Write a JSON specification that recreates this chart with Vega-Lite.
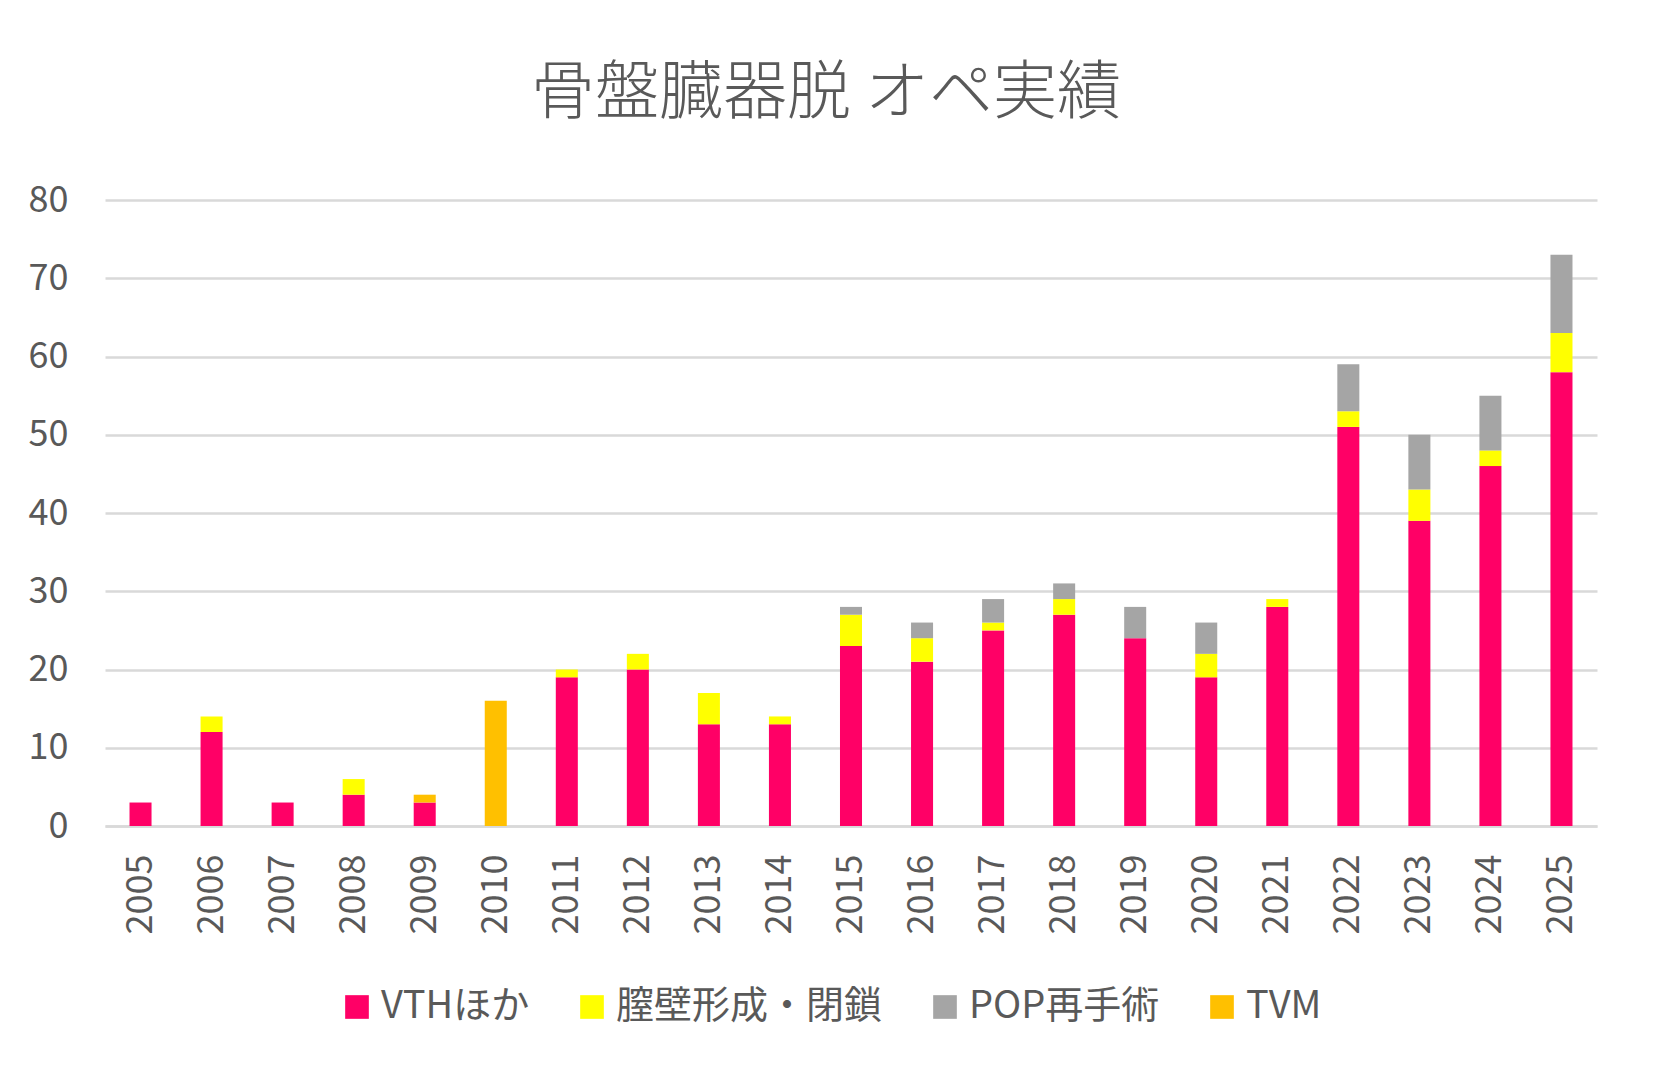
{
  "$schema": "https://vega.github.io/schema/vega-lite/v6.json",
  "width": 1492,
  "height": 626,
  "autosize": "none",
  "padding": {"left": 105, "top": 200, "right": 56, "bottom": 247},
  "background": "white",
  "title": {
    "text": "骨盤臓器脱 オペ実績",
    "anchor": "middle",
    "frame": "group",
    "fontSize": 64,
    "font": "Noto Sans CJK JP",
    "fontWeight": 300,
    "color": "#595959",
    "offset": 56,
    "dx": -25
  },
  "datasets": {
    "types": [
      {"type": "VTHほか", "rank": 1},
      {"type": "膣壁形成・閉鎖", "rank": 2},
      {"type": "POP再手術", "rank": 3},
      {"type": "TVM", "rank": 4}
    ]
  },
  "data": {
    "values": [
      {"year": "2005", "type": "VTHほか", "n": 3},
      {"year": "2006", "type": "VTHほか", "n": 12},
      {"year": "2006", "type": "膣壁形成・閉鎖", "n": 2},
      {"year": "2007", "type": "VTHほか", "n": 3},
      {"year": "2008", "type": "VTHほか", "n": 4},
      {"year": "2008", "type": "膣壁形成・閉鎖", "n": 2},
      {"year": "2009", "type": "VTHほか", "n": 3},
      {"year": "2009", "type": "TVM", "n": 1},
      {"year": "2010", "type": "TVM", "n": 16},
      {"year": "2011", "type": "VTHほか", "n": 19},
      {"year": "2011", "type": "膣壁形成・閉鎖", "n": 1},
      {"year": "2012", "type": "VTHほか", "n": 20},
      {"year": "2012", "type": "膣壁形成・閉鎖", "n": 2},
      {"year": "2013", "type": "VTHほか", "n": 13},
      {"year": "2013", "type": "膣壁形成・閉鎖", "n": 4},
      {"year": "2014", "type": "VTHほか", "n": 13},
      {"year": "2014", "type": "膣壁形成・閉鎖", "n": 1},
      {"year": "2015", "type": "VTHほか", "n": 23},
      {"year": "2015", "type": "膣壁形成・閉鎖", "n": 4},
      {"year": "2015", "type": "POP再手術", "n": 1},
      {"year": "2016", "type": "VTHほか", "n": 21},
      {"year": "2016", "type": "膣壁形成・閉鎖", "n": 3},
      {"year": "2016", "type": "POP再手術", "n": 2},
      {"year": "2017", "type": "VTHほか", "n": 25},
      {"year": "2017", "type": "膣壁形成・閉鎖", "n": 1},
      {"year": "2017", "type": "POP再手術", "n": 3},
      {"year": "2018", "type": "VTHほか", "n": 27},
      {"year": "2018", "type": "膣壁形成・閉鎖", "n": 2},
      {"year": "2018", "type": "POP再手術", "n": 2},
      {"year": "2019", "type": "VTHほか", "n": 24},
      {"year": "2019", "type": "POP再手術", "n": 4},
      {"year": "2020", "type": "VTHほか", "n": 19},
      {"year": "2020", "type": "膣壁形成・閉鎖", "n": 3},
      {"year": "2020", "type": "POP再手術", "n": 4},
      {"year": "2021", "type": "VTHほか", "n": 28},
      {"year": "2021", "type": "膣壁形成・閉鎖", "n": 1},
      {"year": "2022", "type": "VTHほか", "n": 51},
      {"year": "2022", "type": "膣壁形成・閉鎖", "n": 2},
      {"year": "2022", "type": "POP再手術", "n": 6},
      {"year": "2023", "type": "VTHほか", "n": 39},
      {"year": "2023", "type": "膣壁形成・閉鎖", "n": 4},
      {"year": "2023", "type": "POP再手術", "n": 7},
      {"year": "2024", "type": "VTHほか", "n": 46},
      {"year": "2024", "type": "膣壁形成・閉鎖", "n": 2},
      {"year": "2024", "type": "POP再手術", "n": 7},
      {"year": "2025", "type": "VTHほか", "n": 58},
      {"year": "2025", "type": "膣壁形成・閉鎖", "n": 5},
      {"year": "2025", "type": "POP再手術", "n": 10}
    ]
  },
  "transform": [
    {"lookup": "type", "from": {"data": {"name": "types"}, "key": "type", "fields": ["rank"]}}
  ],
  "mark": {"type": "bar"},
  "encoding": {
    "x": {
      "field": "year",
      "type": "ordinal",
      "scale": {"paddingInner": 0.69, "paddingOuter": 0.345},
      "axis": {
        "title": null,
        "labelAngle": -90,
        "labelFontSize": 36,
        "labelColor": "#595959",
        "labelFont": "Noto Sans CJK JP",
        "labelPadding": 28,
        "ticks": false,
        "domain": true,
        "domainColor": "#D9D9D9",
        "domainWidth": 2.5
      }
    },
    "y": {
      "field": "n",
      "type": "quantitative",
      "stack": "zero",
      "scale": {"domain": [0, 80], "nice": false},
      "axis": {
        "title": null,
        "values": [0, 10, 20, 30, 40, 50, 60, 70, 80],
        "labelFontSize": 36,
        "labelColor": "#595959",
        "labelFont": "Noto Sans CJK JP",
        "labelPadding": 37,
        "ticks": false,
        "domain": false,
        "grid": true,
        "gridColor": "#D9D9D9",
        "gridWidth": 2.5
      }
    },
    "color": {
      "field": "type",
      "type": "nominal",
      "scale": {
        "domain": ["VTHほか", "膣壁形成・閉鎖", "POP再手術", "TVM"],
        "range": ["#FF0066", "#FFFF00", "#A5A5A5", "#FFC000"]
      },
      "legend": {
        "title": null,
        "orient": "none",
        "direction": "horizontal",
        "legendX": 233,
        "legendY": 788,
        "symbolType": "square",
        "symbolSize": 560,
        "symbolStrokeWidth": 0,
        "labelFontSize": 38,
        "labelFont": "Noto Sans CJK JP",
        "labelColor": "#595959",
        "labelOffset": 5,
        "labelLimit": 0,
        "columnPadding": 43,
        "padding": 0
      }
    },
    "order": {"field": "rank", "type": "quantitative", "sort": "ascending"}
  },
  "config": {
    "view": {"stroke": null},
    "font": "Noto Sans CJK JP"
  }
}
